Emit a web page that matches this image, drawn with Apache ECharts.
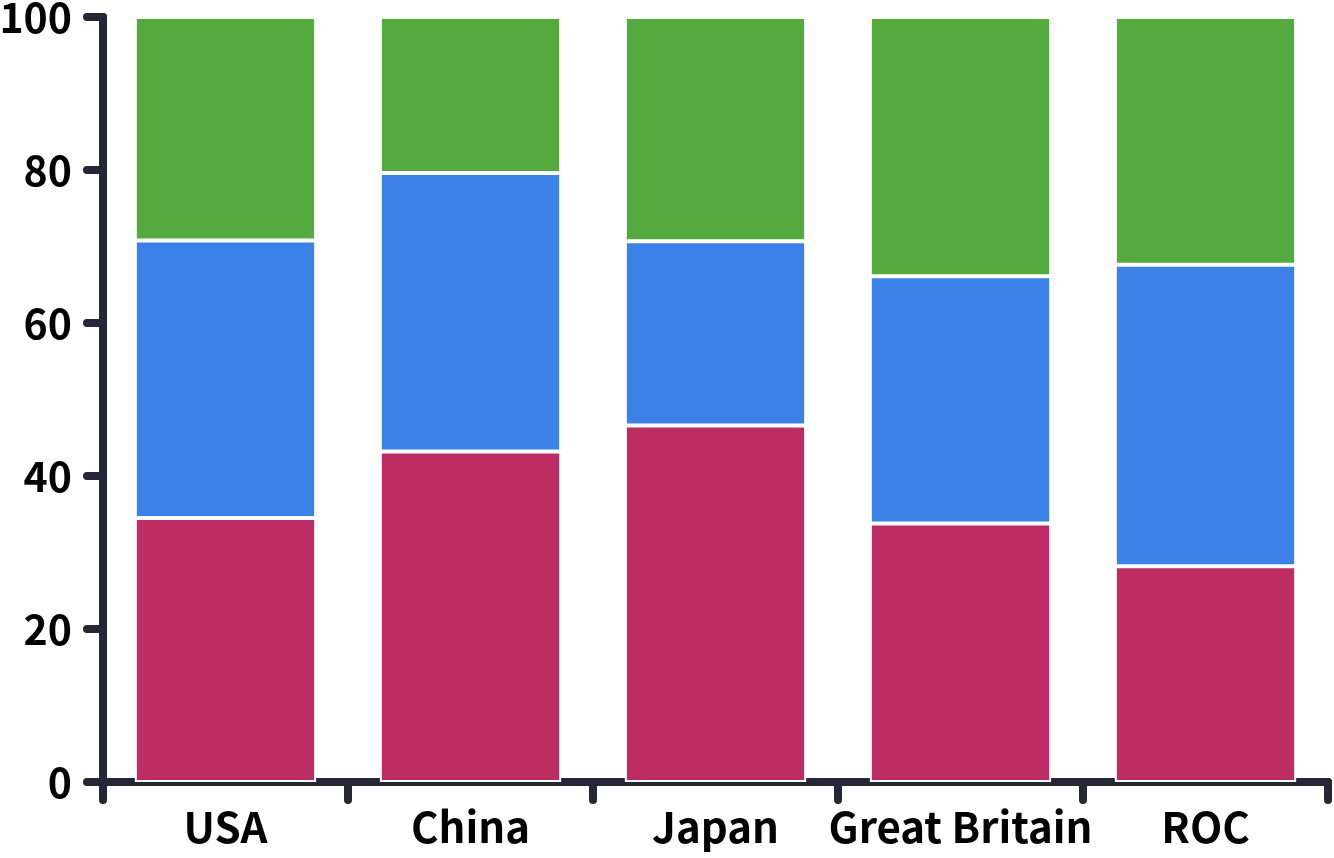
<!DOCTYPE html>
<html>
<head>
<meta charset="utf-8">
<script src="https://cdn.jsdelivr.net/npm/echarts@6/dist/echarts.min.js"></script>
<style>html,body{margin:0;padding:0;background:#fff}#c{width:1334px;height:858px}</style>
</head>
<body>
<div id="c"></div>
<script>
const categories = ['USA', 'China', 'Japan', 'Great Britain', 'ROC'];
const goldShare = [34.5, 43.2, 46.6, 33.8, 28.2];
const silverShare = [36.3, 36.4, 24.1, 32.3, 39.4];
const bronzeShare = [29.2, 20.4, 29.3, 33.9, 32.4];
const yTicks = [0, 20, 40, 60, 80, 100];

const axisColor = '#262637';
const font = '"Noto Sans CJK SC", "Noto Sans", sans-serif';
const chart = echarts.init(document.getElementById('c'), null, {renderer: 'canvas'});
const barStyle = c => ({color: c, borderColor: '#ffffff', borderWidth: 2});
chart.setOption({
  animation: false,
  backgroundColor: '#ffffff',
  grid: {left: 103, right: 6, top: 17, bottom: 76, containLabel: false, outerBoundsMode: 'none'},
  xAxis: {
    type: 'category',
    data: categories,
    boundaryGap: true,
    axisLine: {show: true, lineStyle: {color: axisColor, width: 8, cap: 'round'}},
    axisTick: {show: true, interval: 0, alignWithLabel: false, length: 18, lineStyle: {color: axisColor, width: 8, cap: 'round'}},
    axisLabel: {interval: 0, hideOverlap: false, color: '#000', fontFamily: font, fontWeight: 'bold', fontSize: 42, margin: 24},
    splitLine: {show: false}
  },
  yAxis: {
    type: 'value',
    min: yTicks[0], max: yTicks[yTicks.length - 1], interval: 20,
    axisLine: {show: true, lineStyle: {color: axisColor, width: 8, cap: 'round'}},
    axisTick: {show: true, length: 16, lineStyle: {color: axisColor, width: 8, cap: 'round'}},
    axisLabel: {color: '#000', fontFamily: font, fontWeight: 'bold', fontSize: 41, margin: 31},
    splitLine: {show: false}
  },
  series: [
    {type: 'bar', stack: 'm', data: goldShare, barCategoryGap: '26%', itemStyle: barStyle('#bd2d64')},
    {type: 'bar', stack: 'm', data: silverShare, itemStyle: barStyle('#3c81e8')},
    {type: 'bar', stack: 'm', data: bronzeShare, itemStyle: barStyle('#54aa3e')}
  ]
});
</script>
</body>
</html>
